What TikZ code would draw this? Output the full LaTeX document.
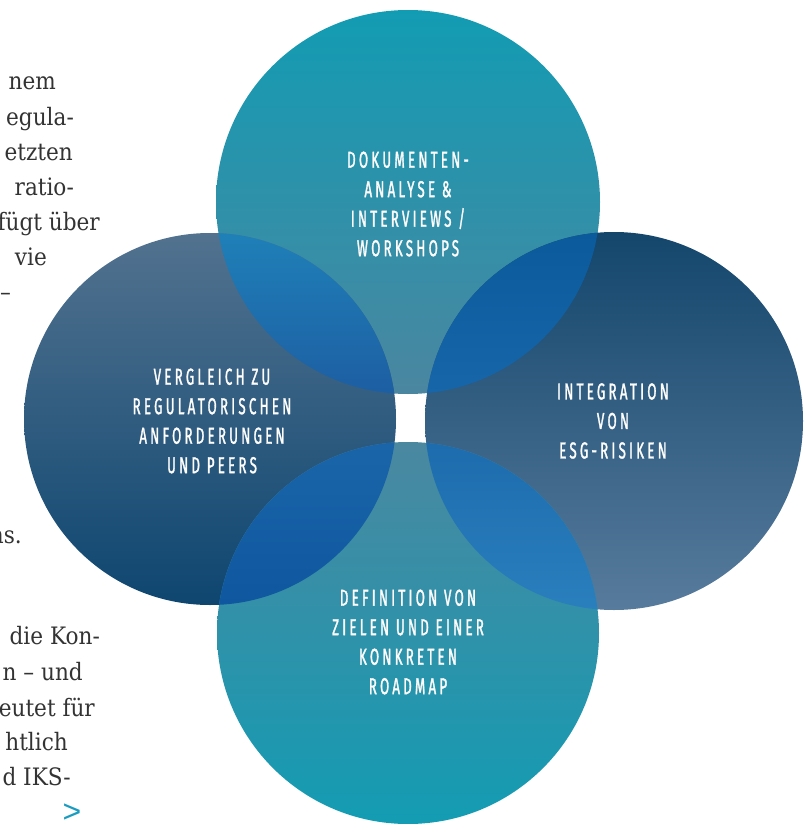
\documentclass[tikz,border=0pt]{standalone}
\usepackage{fontspec}
\setmainfont[FakeStretch=0.9]{DejaVu Serif}
\newfontfamily\ringfont[FakeStretch=0.58,LetterSpace=14,FakeBold=1.2]{Fira Sans}
\newfontfamily\signfont{Liberation Sans}
\definecolor{topA}{HTML}{129CB3}
\definecolor{topB}{HTML}{4B86A0}
\definecolor{leftA}{HTML}{52728F}
\definecolor{leftB}{HTML}{0E4670}
\definecolor{rightA}{HTML}{14466C}
\definecolor{rightB}{HTML}{577B9C}
\definecolor{botA}{HTML}{4A88A0}
\definecolor{botB}{HTML}{139CB3}
\definecolor{tlA}{HTML}{1F80B8}
\definecolor{tlB}{HTML}{1D5EA2}
\definecolor{trA}{HTML}{0B5A9B}
\definecolor{trB}{HTML}{1766AA}
\definecolor{blA}{HTML}{1A65AA}
\definecolor{blB}{HTML}{0F579F}
\definecolor{brA}{HTML}{1D6CAD}
\definecolor{brB}{HTML}{2A7FBD}
\definecolor{bodytext}{HTML}{333333}
\definecolor{arrowteal}{HTML}{1A9BC0}

\begin{document}
\begin{tikzpicture}[x=1pt,y=-1pt,
		ringtext/.style={align=center,text=white,font=\ringfont\fontsize{23}{29.5}\selectfont},
		bodyline/.style={anchor=base east,inner sep=0pt,text=bodytext,font=\fontsize{24}{35}\selectfont}]
		\clip (0,0) rectangle (809,824);
		\coordinate (ctop) at (408,202);
		\coordinate (cleft) at (210,419);
		\coordinate (cright) at (614,421);
		\coordinate (cbot) at (408,633);
		\shade[top color=topA,bottom color=topB] (ctop) circle (192);
		\shade[top color=leftA,bottom color=leftB] (cleft) circle (186);
		\shade[top color=rightA,bottom color=rightB] (cright) circle (189);
		\shade[top color=botA,bottom color=botB] (cbot) circle (191);
		\begin{scope}
			\clip (ctop) circle (192);
			\clip (cleft) circle (186);
			\shade[top color=tlA,bottom color=tlB] (0,232) rectangle (809,395);
		\end{scope}
		\begin{scope}
			\clip (ctop) circle (192);
			\clip (cright) circle (189);
			\shade[top color=trA,bottom color=trB] (0,232) rectangle (809,395);
		\end{scope}
		\begin{scope}
			\clip (cbot) circle (191);
			\clip (cleft) circle (186);
			\shade[top color=blA,bottom color=blB] (0,442) rectangle (809,606);
		\end{scope}
		\begin{scope}
			\clip (cbot) circle (191);
			\clip (cright) circle (189);
			\shade[top color=brA,bottom color=brB] (0,442) rectangle (809,611);
		\end{scope}
		\node[ringtext] (analyse) at (408,204) {DOKUMENTEN-\\ANALYSE \&\\INTERVIEWS /\\WORKSHOPS};
		\node[ringtext] (vergleich) at (212,421) {VERGLEICH ZU\\REGULATORISCHEN\\ANFORDERUNGEN\\UND PEERS};
		\node[ringtext] (integration) at (613,421) {INTEGRATION\\VON\\ESG-RISIKEN};
		\node[ringtext] (roadmap) at (408,642) {DEFINITION VON\\ZIELEN UND EINER\\KONKRETEN\\ROADMAP};
		\node[bodyline] (l1) at (56,90) {nem};
		\node[bodyline] (l2) at (74,125) {egula-};
		\node[bodyline] (l3) at (73,160) {etzten};
		\node[bodyline] (l4) at (74,195) {ratio-};
		\node[bodyline] (l5) at (100,230) {fügt über};
		\node[bodyline] (l6) at (47,265) {vie};
		\node[bodyline] (l7) at (11,300) {–};
		\node[bodyline] (l8) at (22,543) {ns.};
		\node[bodyline] (l9) at (100,644) {die Kon-};
		\node[bodyline] (l10) at (83,680) {n – und};
		\node[bodyline] (l11) at (95,716) {eutet für};
		\node[bodyline] (l12) at (68,750) {htlich};
		\node[bodyline] (l13) at (71,785) {d IKS-};
		\node[anchor=center,text=arrowteal,font=\signfont\fontsize{32}{32}\selectfont] (more) at (72,813) {>};
	\end{tikzpicture}
\end{document}
